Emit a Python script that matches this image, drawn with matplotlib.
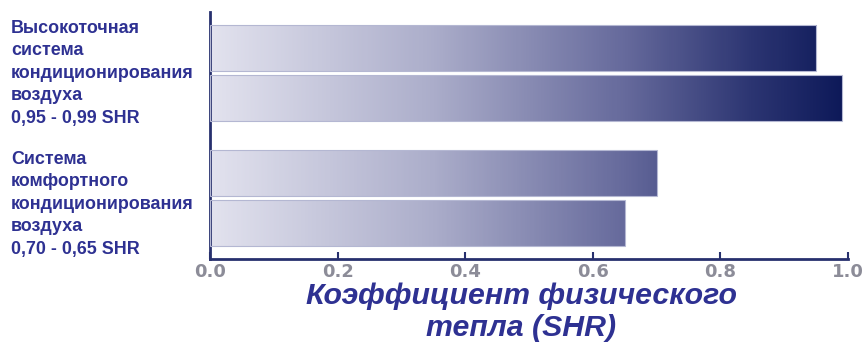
import matplotlib
matplotlib.use('Agg')
import matplotlib.pyplot as plt
from matplotlib.colors import LinearSegmentedColormap
import numpy as np

# %%
# SHR values, top bar first
shr_values = [0.95, 0.99, 0.70, 0.65]
bar_pos = [3.5, 2.5, 1.0, 0.0]
group_labels = [
    'Высокоточная\nсистема\nкондиционирования\nвоздуха\n0,95 - 0,99 SHR',
    'Система\nкомфортного\nкондиционирования\nвоздуха\n0,70 - 0,65 SHR',
]
xticks = [0.0, 0.2, 0.4, 0.6, 0.8, 1.0]
xlabel = 'Коэффициент физического\nтепла (SHR)'

label_color = '#2e3192'
axis_color = '#27306e'

cmap = LinearSegmentedColormap.from_list(
    'shr', [(0.0, '#e2e2ee'), (0.35, '#abadca'), (0.65, '#666a9c'),
            (0.85, '#2c3572'), (1.0, '#0c1858')])

# %%
fig = plt.figure(figsize=(8.65, 3.44), dpi=100)
ax = fig.add_axes([210 / 865, 85 / 344, 638 / 865, 247 / 344])

h = 0.92
for v, y in zip(shr_values, bar_pos):
    grad = cmap(np.linspace(0, v, 256))[None, :, :]
    ax.imshow(grad, extent=[0, v, y - h / 2, y + h / 2], aspect='auto',
              interpolation='bilinear', zorder=2)
    ax.barh(y, v, height=h, left=0, facecolor='none', edgecolor='#b4b7d2',
            linewidth=0.8, zorder=3)

ax.set_xlim(0, 1.0)
ax.set_ylim(-0.73, 4.23)

for side in ['top', 'right']:
    ax.spines[side].set_visible(False)
for side in ['left', 'bottom']:
    ax.spines[side].set_color(axis_color)
    ax.spines[side].set_linewidth(2)
ax.set_yticks([])
ax.set_xticks(xticks)
ax.set_xticklabels(['%.1f' % t for t in xticks], fontsize=13, fontweight='bold',
                   color='#8c8c98', family='DejaVu Sans')
ax.tick_params(axis='x', direction='in', length=5, width=1.5, color=axis_color, pad=3)

# group labels on the left
fig.text(11 / 865, 1 - 20 / 344, group_labels[0], ha='left', va='top',
         fontsize=12.9, fontweight='bold', color=label_color,
         family='Liberation Sans', linespacing=1.42)
fig.text(11 / 865, 1 - 151 / 344, group_labels[1], ha='left', va='top',
         fontsize=12.9, fontweight='bold', color=label_color,
         family='Liberation Sans', linespacing=1.42)

fig.text(521 / 865, 1 - 312 / 344, xlabel, ha='center', va='center',
         fontsize=21.8, fontweight='bold', style='italic', color=label_color,
         family='Liberation Sans', linespacing=1.15)

fig.savefig('out.png', dpi=100)
